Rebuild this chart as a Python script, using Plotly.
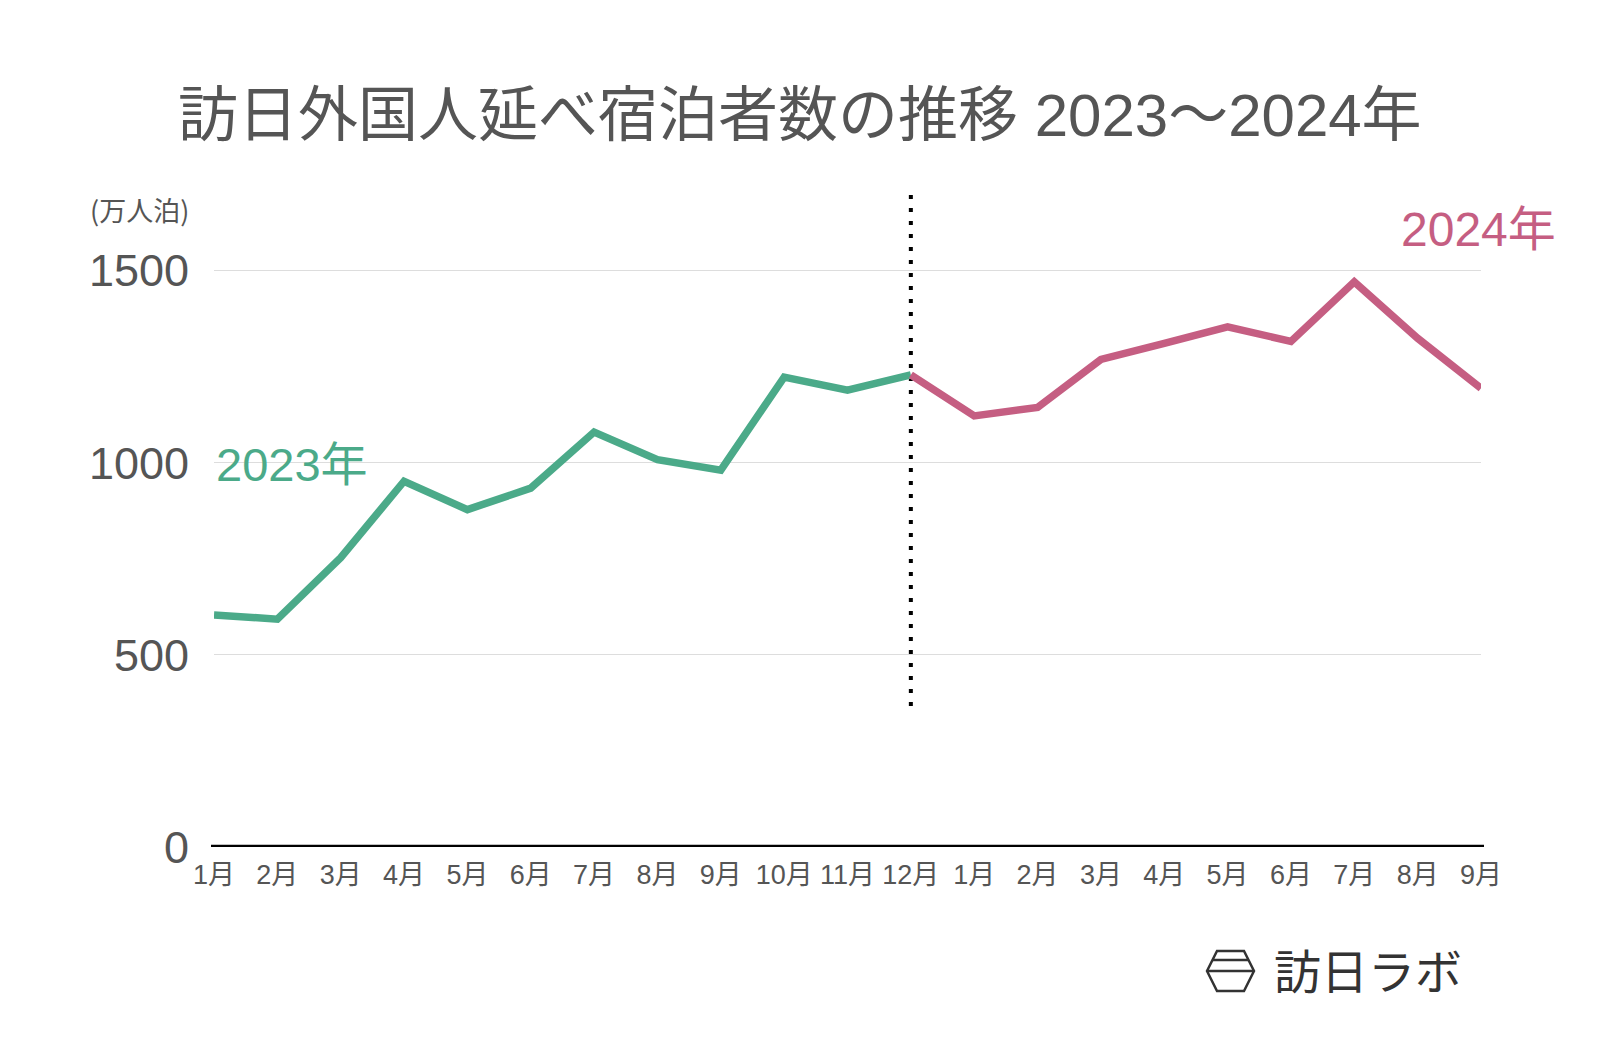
import plotly.graph_objects as go

months_2023 = ["1月", "2月", "3月", "4月", "5月", "6月", "7月", "8月", "9月", "10月", "11月", "12月"]
months_2024 = ["1月", "2月", "3月", "4月", "5月", "6月", "7月", "8月", "9月"]
values_2023 = [604, 593, 753, 952, 878, 934, 1080, 1008, 981, 1223, 1189, 1229]
values_2024 = [1122, 1144, 1269, 1311, 1354, 1316, 1471, 1324, 1194]
y_ticks = [0, 500, 1000, 1500]

GREEN = "#4BAA89"
PINK = "#C55E82"
FONT = "Liberation Sans, Noto Sans CJK JP"
CJK = "Noto Sans CJK JP"

# plot area in page pixels
L, R, T, B = 206, 1473, 182, 839
W, H = R - L, B - T

labels = months_2023 + months_2024
x_all = list(range(len(labels)))
x23 = x_all[:len(values_2023)]
x24 = [x23[-1]] + x_all[len(values_2023):]
y24 = [values_2023[-1]] + values_2024

fig = go.Figure()
fig.add_trace(go.Scatter(x=x23, y=values_2023, mode="lines",
                         line=dict(color=GREEN, width=7.5), hoverinfo="skip"))
fig.add_trace(go.Scatter(x=x24, y=y24, mode="lines",
                         line=dict(color=PINK, width=7.5), hoverinfo="skip"))

# dotted separator at the year boundary
fig.add_shape(type="line", xref="x", yref="y", x0=x23[-1], x1=x23[-1], y0=367, y1=1728,
              line=dict(color="black", width=4, dash="4px,9px"), layer="below")

fig.update_layout(
    width=1600, height=1048,
    paper_bgcolor="white", plot_bgcolor="white",
    margin=dict(l=L, r=1600 - R, t=T, b=1048 - B),
    showlegend=False,
    font=dict(family=FONT, color="#555555"),
    xaxis=dict(range=[0, len(labels) - 1], tickvals=x_all, ticktext=labels,
               showgrid=False, zeroline=False, showline=False,
               tickfont=dict(size=27, color="#555555", family=FONT), ticks="", ticklabelstandoff=9),
    yaxis=dict(range=[0, 1710], tickvals=y_ticks, showgrid=True, gridcolor="#DDDDDD",
               gridwidth=1, zeroline=False, showline=False, ticks="",
               tickfont=dict(size=45, color="#555555", family=FONT), ticklabelstandoff=24),
)

def px(xp, yp):
    return (xp - L) / W, (B - yp) / H

# baseline at 0
fig.add_shape(type="line", xref="paper", yref="y", x0=px(203, 0)[0], x1=px(1476, 0)[0], y0=0, y1=0,
              line=dict(color="black", width=4.5))

tx, ty = px(792, 107)
fig.add_annotation(text="訪日外国人延べ宿泊者数の推移 2023〜2024年", xref="paper", yref="paper",
                   x=tx, y=ty, xanchor="center", yanchor="middle", showarrow=False,
                   font=dict(size=60, color="#555555", family=FONT))
ux, uy = px(80, 201)
fig.add_annotation(text="(万人泊)", xref="paper", yref="paper",
                   x=ux, y=uy, xanchor="left", yanchor="middle",
                   showarrow=False, font=dict(size=27, color="#555555", family=CJK))
ax, ay = px(206, 456)
fig.add_annotation(text="2023年", xref="paper", yref="paper",
                   x=ax, y=ay, xanchor="left", yanchor="middle",
                   showarrow=False, font=dict(size=47, color=GREEN, family=FONT))
bx, by = px(1550, 221)
fig.add_annotation(text="2024年", xref="paper", yref="paper",
                   x=bx, y=by, xanchor="right", yanchor="middle",
                   showarrow=False, font=dict(size=48, color=PINK, family=FONT))

# logo
lx, ly = px(1264, 960)
fig.add_annotation(text="訪日ラボ", xref="paper", yref="paper",
                   x=lx, y=ly, xanchor="left", yanchor="middle",
                   showarrow=False, font=dict(size=47, color="#333333", family=CJK))

hexpts = [(1209, 943), (1236, 943), (1246, 963), (1236, 983), (1209, 983), (1199, 963)]
path = "M " + " L ".join(f"{px(a, b)[0]},{px(a, b)[1]}" for a, b in hexpts) + " Z"
fig.add_shape(type="path", xref="paper", yref="paper", path=path,
              line=dict(color="#333333", width=2.5))
for (a0, a1, b) in [(1204, 1241, 952), (1199, 1246, 963)]:
    p0 = px(a0, b); p1 = px(a1, b)
    fig.add_shape(type="line", xref="paper", yref="paper", x0=p0[0], x1=p1[0], y0=p0[1], y1=p1[1],
                  line=dict(color="#333333", width=2.5))

fig.write_html("out.html")
